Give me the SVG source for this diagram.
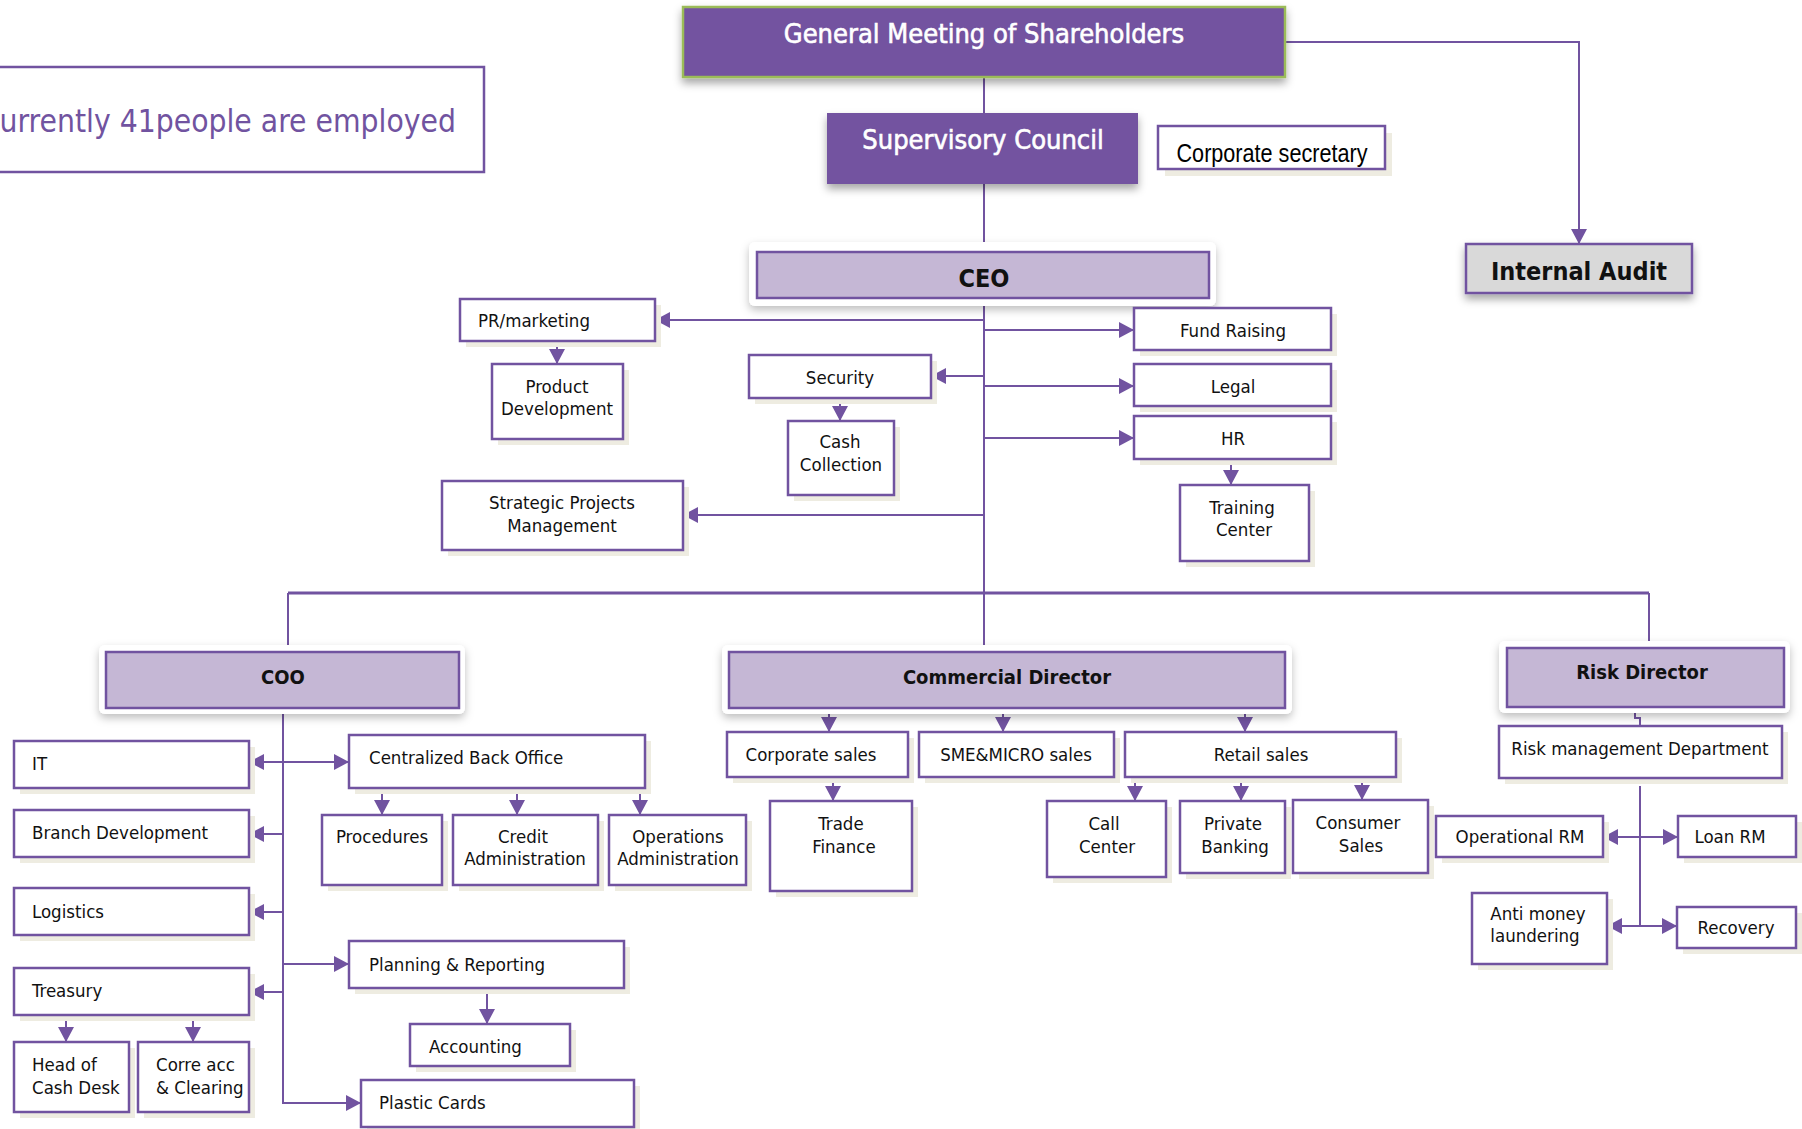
<svg xmlns="http://www.w3.org/2000/svg" width="1802" height="1129" viewBox="0 0 1802 1129">
<defs>
<style>
.t{font-family:"DejaVu Sans Condensed","DejaVu Sans",sans-serif;font-stretch:condensed;font-size:18.5px;fill:#111}
.c{text-anchor:middle}
.b{font-weight:bold}
.bx{fill:#fff;stroke:#7153A0;stroke-width:2.5}
.sh{fill:#EEECE1}
.ln{fill:none;stroke:#7153A0;stroke-width:2}
.lv{fill:#C5B7D5;stroke:#7153A0;stroke-width:2.5}
.wt{font-size:27px;fill:#fff;stroke:#fff;stroke-width:0.6}
</style>
<linearGradient id="bev" x1="0" y1="0" x2="0" y2="1">
<stop offset="0" stop-color="#E2D8EE"/>
<stop offset="0.14" stop-color="#C8BAD8"/>
<stop offset="0.82" stop-color="#C3B4D3"/>
<stop offset="1" stop-color="#8C799F"/>
</linearGradient>
<filter id="ds" x="-10%" y="-30%" width="120%" height="170%">
<feDropShadow dx="0" dy="5" stdDeviation="4" flood-color="#000" flood-opacity="0.35"/>
</filter>
<filter id="ds2" x="-10%" y="-30%" width="120%" height="170%">
<feDropShadow dx="0" dy="4" stdDeviation="4" flood-color="#000" flood-opacity="0.25"/>
</filter>
<marker id="ar" markerUnits="userSpaceOnUse" markerWidth="18" markerHeight="18" refX="15" refY="8" orient="auto">
<path d="M0,0 L15,8 L0,16 z" fill="#7153A0"/>
</marker>
</defs>
<rect width="1802" height="1129" fill="#fff"/>

<g id="connectors">
<path class="ln" d="M984,77 V113"/>
<path class="ln" d="M984,184 V252"/>
<path class="ln" d="M984,298 V652"/>
<path class="ln" d="M1285,42 H1579 V244" marker-end="url(#ar)"/>
<path class="ln" d="M984,320 H655" marker-end="url(#ar)"/>
<path class="ln" d="M984,376 H931" marker-end="url(#ar)"/>
<path class="ln" d="M984,515 H683" marker-end="url(#ar)"/>
<path class="ln" d="M984,330 H1134" marker-end="url(#ar)"/>
<path class="ln" d="M984,386 H1134" marker-end="url(#ar)"/>
<path class="ln" d="M984,438 H1134" marker-end="url(#ar)"/>
<path class="ln" d="M557,341 V364" marker-end="url(#ar)"/>
<path class="ln" d="M840,398 V421" marker-end="url(#ar)"/>
<path class="ln" d="M1231,459 V485" marker-end="url(#ar)"/>
<path class="ln" style="stroke-width:3" d="M288,593 H1649"/>
<path class="ln" d="M288,593 V652"/>
<path class="ln" d="M1649,593 V648"/>
<path class="ln" d="M283,708 V1103 H361" marker-end="url(#ar)"/>
<path class="ln" d="M283,762 H249" marker-end="url(#ar)"/>
<path class="ln" d="M283,762 H349" marker-end="url(#ar)"/>
<path class="ln" d="M283,834 H249" marker-end="url(#ar)"/>
<path class="ln" d="M283,912 H249" marker-end="url(#ar)"/>
<path class="ln" d="M283,964 H349" marker-end="url(#ar)"/>
<path class="ln" d="M283,992 H249" marker-end="url(#ar)"/>
<path class="ln" d="M382,788 V815" marker-end="url(#ar)"/>
<path class="ln" d="M517,788 V815" marker-end="url(#ar)"/>
<path class="ln" d="M640,788 V815" marker-end="url(#ar)"/>
<path class="ln" d="M487,988 V1024" marker-end="url(#ar)"/>
<path class="ln" d="M66,1015 V1042" marker-end="url(#ar)"/>
<path class="ln" d="M193,1015 V1042" marker-end="url(#ar)"/>
<path class="ln" d="M829,708 V732" marker-end="url(#ar)"/>
<path class="ln" d="M1003,708 V732" marker-end="url(#ar)"/>
<path class="ln" d="M1245,708 V732" marker-end="url(#ar)"/>
<path class="ln" d="M833,777 V801" marker-end="url(#ar)"/>
<path class="ln" d="M1135,777 V801" marker-end="url(#ar)"/>
<path class="ln" d="M1241,777 V801" marker-end="url(#ar)"/>
<path class="ln" d="M1362,772 V800" marker-end="url(#ar)"/>
<path class="ln" d="M1635,707 V718 H1640 V726"/>
<path class="ln" d="M1640,786 V926"/>
<path class="ln" d="M1640,837 H1603" marker-end="url(#ar)"/>
<path class="ln" d="M1640,837 H1678" marker-end="url(#ar)"/>
<path class="ln" d="M1640,926 H1607" marker-end="url(#ar)"/>
<path class="ln" d="M1640,926 H1677" marker-end="url(#ar)"/>
</g>

<g id="n-note">
<rect x="-10" y="67" width="494" height="105" fill="#fff" stroke="#7153A0" stroke-width="2.5"/>
<text class="t" x="456" y="132" style="font-size:31.5px;fill:#7153A0;text-anchor:end">Currently 41people are employed</text>
</g>

<g id="n-gm">
<rect x="683" y="7" width="602" height="70" fill="#7352A0" stroke="#9BBB59" stroke-width="2.5" filter="url(#ds)"/>
<text class="t c wt" x="984" y="43">General Meeting of Shareholders</text>
</g>

<g id="n-sc">
<rect x="827" y="113" width="311" height="71" fill="#7352A0" filter="url(#ds)"/>
<text class="t c wt" x="983" y="149">Supervisory Council</text>
</g>

<g id="n-cs">
<rect class="sh" x="1165" y="133" width="227" height="43"/>
<rect class="bx" x="1158" y="126" width="227" height="43"/>
<text x="1272" y="162" text-anchor="middle" textLength="191" lengthAdjust="spacingAndGlyphs" style="font-family:'Liberation Sans Narrow','Liberation Sans',sans-serif;font-size:26px;fill:#000">Corporate secretary</text>
</g>

<g id="n-ia">
<rect x="1466" y="244" width="226" height="49" fill="#D9D9D9" stroke="#7153A0" stroke-width="2.5" filter="url(#ds)"/>
<text class="t c b" x="1579" y="280" style="font-size:25px">Internal Audit</text>
</g>

<g id="n-ceo">
<rect x="749" y="242" width="467" height="64" rx="6" fill="#fff" filter="url(#ds2)"/>
<rect class="lv" x="757" y="252" width="452" height="46" fill="url(#bev)"/>
<text class="t c b" x="984" y="287" style="font-size:25px">CEO</text>
</g>

<g id="n-pr"><rect class="sh" x="466" y="305" width="195" height="42"/><rect class="bx" x="460" y="299" width="195" height="42"/><text class="t" x="478" y="327">PR/marketing</text></g>
<g id="n-pd"><rect class="sh" x="498" y="370" width="131" height="75"/><rect class="bx" x="492" y="364" width="131" height="75"/><text class="t c" x="557" y="393">Product</text><text class="t c" x="557" y="415">Development</text></g>
<g id="n-sec"><rect class="sh" x="755" y="361" width="182" height="43"/><rect class="bx" x="749" y="355" width="182" height="43"/><text class="t c" x="840" y="384">Security</text></g>
<g id="n-cash"><rect class="sh" x="794" y="427" width="106" height="74"/><rect class="bx" x="788" y="421" width="106" height="74"/><text class="t c" x="840" y="448">Cash</text><text class="t c" x="841" y="471">Collection</text></g>
<g id="n-spm"><rect class="sh" x="448" y="487" width="241" height="69"/><rect class="bx" x="442" y="481" width="241" height="69"/><text class="t c" x="562" y="509">Strategic Projects</text><text class="t c" x="562" y="532">Management</text></g>
<g id="n-fund"><rect class="sh" x="1140" y="314" width="197" height="42"/><rect class="bx" x="1134" y="308" width="197" height="42"/><text class="t c" x="1233" y="337">Fund Raising</text></g>
<g id="n-legal"><rect class="sh" x="1140" y="370" width="197" height="42"/><rect class="bx" x="1134" y="364" width="197" height="42"/><text class="t c" x="1233" y="393">Legal</text></g>
<g id="n-hr"><rect class="sh" x="1140" y="422" width="197" height="43"/><rect class="bx" x="1134" y="416" width="197" height="43"/><text class="t c" x="1233" y="445">HR</text></g>
<g id="n-tc"><rect class="sh" x="1186" y="491" width="129" height="76"/><rect class="bx" x="1180" y="485" width="129" height="76"/><text class="t c" x="1242" y="514">Training</text><text class="t c" x="1244" y="536">Center</text></g>

<g id="n-coo">
<rect x="99" y="645" width="366" height="69" rx="6" fill="#fff" filter="url(#ds2)"/>
<rect class="lv" x="106" y="652" width="353" height="56" fill="url(#bev)"/>
<text class="t c b" x="283" y="684" style="font-size:20px">COO</text>
</g>
<g id="n-cd">
<rect x="722" y="645" width="570" height="69" rx="6" fill="#fff" filter="url(#ds2)"/>
<rect class="lv" x="729" y="652" width="556" height="56" fill="url(#bev)"/>
<text class="t c b" x="1007" y="684" style="font-size:20px">Commercial Director</text>
</g>
<g id="n-rd">
<rect x="1499" y="641" width="291" height="72" rx="6" fill="#fff" filter="url(#ds2)"/>
<rect class="lv" x="1507" y="648" width="277" height="59" fill="url(#bev)"/>
<text class="t c b" x="1642" y="679" style="font-size:20px">Risk Director</text>
</g>

<g id="n-it"><rect class="sh" x="20" y="747" width="235" height="47"/><rect class="bx" x="14" y="741" width="235" height="47"/><text class="t" x="32" y="770">IT</text></g>
<g id="n-cbo"><rect class="sh" x="355" y="741" width="296" height="53"/><rect class="bx" x="349" y="735" width="296" height="53"/><text class="t" x="369" y="764">Centralized Back Office</text></g>
<g id="n-proc"><rect class="sh" x="328" y="821" width="120" height="70"/><rect class="bx" x="322" y="815" width="120" height="70"/><text class="t c" x="382" y="843">Procedures</text></g>
<g id="n-credit"><rect class="sh" x="459" y="821" width="145" height="70"/><rect class="bx" x="453" y="815" width="145" height="70"/><text class="t c" x="523" y="843">Credit</text><text class="t c" x="525" y="865">Administration</text></g>
<g id="n-ops"><rect class="sh" x="615" y="821" width="137" height="70"/><rect class="bx" x="609" y="815" width="137" height="70"/><text class="t c" x="678" y="843">Operations</text><text class="t c" x="678" y="865">Administration</text></g>
<g id="n-branch"><rect class="sh" x="20" y="816" width="235" height="47"/><rect class="bx" x="14" y="810" width="235" height="47"/><text class="t" x="32" y="839">Branch Development</text></g>
<g id="n-log"><rect class="sh" x="20" y="894" width="235" height="47"/><rect class="bx" x="14" y="888" width="235" height="47"/><text class="t" x="32" y="918">Logistics</text></g>
<g id="n-plan"><rect class="sh" x="355" y="947" width="275" height="47"/><rect class="bx" x="349" y="941" width="275" height="47"/><text class="t" x="369" y="971">Planning &amp; Reporting</text></g>
<g id="n-acc"><rect class="sh" x="416" y="1030" width="160" height="42"/><rect class="bx" x="410" y="1024" width="160" height="42"/><text class="t" x="429" y="1053">Accounting</text></g>
<g id="n-tre"><rect class="sh" x="20" y="974" width="235" height="47"/><rect class="bx" x="14" y="968" width="235" height="47"/><text class="t" x="32" y="997">Treasury</text></g>
<g id="n-head"><rect class="sh" x="20" y="1048" width="115" height="70"/><rect class="bx" x="14" y="1042" width="115" height="70"/><text class="t" x="32" y="1071">Head of</text><text class="t" x="32" y="1094">Cash Desk</text></g>
<g id="n-corre"><rect class="sh" x="144" y="1048" width="111" height="70"/><rect class="bx" x="138" y="1042" width="111" height="70"/><text class="t" x="156" y="1071">Corre acc</text><text class="t" x="156" y="1094">&amp; Clearing</text></g>
<g id="n-plastic"><rect class="sh" x="367" y="1086" width="273" height="47"/><rect class="bx" x="361" y="1080" width="273" height="47"/><text class="t" x="379" y="1109">Plastic Cards</text></g>

<g id="n-corp"><rect class="sh" x="733" y="738" width="181" height="45"/><rect class="bx" x="727" y="732" width="181" height="45"/><text class="t c" x="811" y="761">Corporate sales</text></g>
<g id="n-sme"><rect class="sh" x="925" y="738" width="195" height="45"/><rect class="bx" x="919" y="732" width="195" height="45"/><text class="t c" x="1016" y="761">SME&amp;MICRO sales</text></g>
<g id="n-retail"><rect class="sh" x="1131" y="738" width="271" height="45"/><rect class="bx" x="1125" y="732" width="271" height="45"/><text class="t c" x="1261" y="761">Retail sales</text></g>
<g id="n-trade"><rect class="sh" x="776" y="807" width="142" height="90"/><rect class="bx" x="770" y="801" width="142" height="90"/><text class="t c" x="841" y="830">Trade</text><text class="t c" x="844" y="853">Finance</text></g>
<g id="n-call"><rect class="sh" x="1053" y="807" width="119" height="76"/><rect class="bx" x="1047" y="801" width="119" height="76"/><text class="t c" x="1104" y="830">Call</text><text class="t c" x="1107" y="853">Center</text></g>
<g id="n-priv"><rect class="sh" x="1186" y="807" width="105" height="72"/><rect class="bx" x="1180" y="801" width="105" height="72"/><text class="t c" x="1233" y="830">Private</text><text class="t c" x="1235" y="853">Banking</text></g>
<g id="n-cons"><rect class="sh" x="1299" y="806" width="135" height="73"/><rect class="bx" x="1293" y="800" width="135" height="73"/><text class="t c" x="1358" y="829">Consumer</text><text class="t c" x="1361" y="852">Sales</text></g>

<g id="n-rmd"><rect class="sh" x="1505" y="732" width="283" height="52"/><rect class="bx" x="1499" y="726" width="283" height="52"/><text class="t c" x="1640" y="755">Risk management Department</text></g>
<g id="n-oprm"><rect class="sh" x="1442" y="822" width="167" height="41"/><rect class="bx" x="1436" y="816" width="167" height="41"/><text class="t c" x="1520" y="843">Operational RM</text></g>
<g id="n-loan"><rect class="sh" x="1684" y="822" width="118" height="41"/><rect class="bx" x="1678" y="816" width="118" height="41"/><text class="t c" x="1730" y="843">Loan RM</text></g>
<g id="n-aml"><rect class="sh" x="1478" y="899" width="135" height="71"/><rect class="bx" x="1472" y="893" width="135" height="71"/><text class="t c" x="1538" y="920">Anti money</text><text class="t c" x="1535" y="942">laundering</text></g>
<g id="n-rec"><rect class="sh" x="1683" y="913" width="119" height="41"/><rect class="bx" x="1677" y="907" width="119" height="41"/><text class="t c" x="1736" y="934">Recovery</text></g>
</svg>
